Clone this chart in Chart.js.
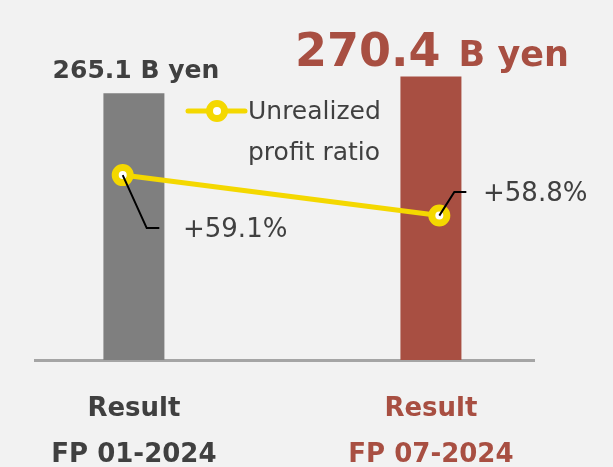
<!DOCTYPE html>
<html lang="en">
<head>
    <meta charset="UTF-8">
    <title>Unrealized profit</title>
    <script src="https://cdn.jsdelivr.net/npm/chart.js"></script>
    <style>
        body { margin: 0; background: #f2f2f2; }
        #wrap { width: 613px; height: 467px; }
    </style>
</head>
<body>
    <div id="wrap"><canvas id="profitChart"></canvas></div>

    <script>
        // data
        const categories = [['Result', 'FP 01-2024'], ['Result', 'FP 07-2024']];
        const assetValues = [265.1, 270.4];      // B yen
        const profitRatio = [59.1, 58.8];        // %
        const lineLabel = ['Unrealized', 'profit ratio'];

        const DARK = '#404040';
        const RED = '#a84f42';
        const GRAY = '#7f7f7f';
        const YELLOW = '#f4d800';
        const FONT = '"DejaVu Sans", Verdana, sans-serif';

        // background
        const bgPlugin = {
            id: 'bg',
            beforeDraw(chart) {
                const c = chart.ctx;
                c.save();
                c.fillStyle = '#f2f2f2';
                c.fillRect(0, 0, chart.width, chart.height);
                c.restore();
            }
        };

        // bar value labels, ratio labels with leader lines, legend
        const labelPlugin = {
            id: 'labels',
            afterDatasetsDraw(chart) {
                const c = chart.ctx;
                const bars = chart.getDatasetMeta(1).data;
                const pts = chart.getDatasetMeta(0).data;
                c.save();
                c.textBaseline = 'alphabetic';

                // first bar: single font
                c.fillStyle = DARK;
                c.font = 'bold 25px ' + FONT;
                c.textAlign = 'center';
                c.fillText(assetValues[0].toFixed(1) + ' B yen', bars[0].x + 2, bars[0].y - 15);

                // second bar: big number + smaller unit
                c.fillStyle = RED;
                c.textAlign = 'left';
                const num = assetValues[1].toFixed(1);
                c.font = 'bold 46px ' + FONT;
                const w1 = c.measureText(num).width;
                c.font = 'bold 35px ' + FONT;
                const w2 = c.measureText('B yen').width;
                const gap = 18;
                let x = bars[1].x + 1 - (w1 + gap + w2) / 2;
                c.font = 'bold 46px ' + FONT;
                c.fillText(num, x, bars[1].y - 11);
                c.font = 'bold 35px ' + FONT;
                c.fillText('B yen', x + w1 + gap, bars[1].y - 11);

                // ratio labels
                const leaders = [
                    { dx: 24, dy: 53, run: 12.6, gap: 23.7 },
                    { dx: 15, dy: -23.6, run: 12, gap: 16.7 }
                ];
                c.font = '26px ' + FONT;
                c.textBaseline = 'middle';
                pts.forEach((p, i) => {
                    const l = leaders[i];
                    const ex = p.x + l.dx, ey = p.y + l.dy;
                    c.strokeStyle = '#000';
                    c.lineWidth = 2;
                    c.beginPath();
                    c.moveTo(p.x, p.y);
                    c.lineTo(ex, ey);
                    c.lineTo(ex + l.run, ey);
                    c.stroke();
                    c.fillStyle = DARK;
                    c.fillText('+' + profitRatio[i].toFixed(1) + '%', ex + l.run + l.gap, ey + 2);
                });

                // legend
                const ds = chart.data.datasets[0];
                const lx = 188, ly = 111;
                c.strokeStyle = ds.borderColor;
                c.lineWidth = ds.borderWidth;
                c.lineCap = 'round';
                c.beginPath();
                c.moveTo(lx, ly);
                c.lineTo(lx + 57, ly);
                c.stroke();
                c.lineWidth = ds.pointBorderWidth;
                c.fillStyle = '#fff';
                c.beginPath();
                c.arc(lx + 29, ly, ds.pointRadius, 0, Math.PI * 2);
                c.fill();
                c.stroke();
                c.fillStyle = DARK;
                c.font = '25px ' + FONT;
                c.textAlign = 'left';
                lineLabel.forEach((t, i) => c.fillText(t, lx + 60, ly + 1 + i * 41));
                c.restore();
            }
        };

        new Chart(document.getElementById('profitChart'), {
            data: {
                datasets: [{
                    type: 'line',
                    label: lineLabel.join(' '),
                    data: profitRatio.map((v, i) => ({ x: i, y: v })),
                    xAxisID: 'x2',
                    yAxisID: 'y2',
                    borderColor: YELLOW,
                    borderWidth: 5,
                    pointRadius: 7.5,
                    pointBorderWidth: 7,
                    pointBackgroundColor: '#fff',
                    pointBorderColor: YELLOW,
                    order: 0
                }, {
                    type: 'bar',
                    label: 'Assets',
                    data: assetValues.map((v, i) => ({ x: i, y: v })),
                    backgroundColor: [GRAY, RED],
                    grouped: false,
                    barPercentage: 0.9,
                    categoryPercentage: 1,
                    maxBarThickness: 61,
                    xAxisID: 'x',
                    yAxisID: 'y',
                    order: 1
                }]
            },
            options: {
                responsive: true,
                maintainAspectRatio: false,
                animation: false,
                layout: { padding: { left: 35, right: 79, top: 10, bottom: 0 } },
                plugins: { legend: { display: false }, tooltip: { enabled: false } },
                scales: {
                    x: {
                        type: 'linear',
                        min: -0.333,
                        max: 1.347,
                        offset: false,
                        bounds: 'data',
                        z: 1,
                        grid: { display: false, drawTicks: false, offset: false },
                        border: { display: true, color: '#a5a5a5', width: 3 },
                        afterBuildTicks: s => { s.ticks = categories.map((c, i) => ({ value: i })); },
                        afterFit: s => { s.height = 107; },
                        ticks: {
                            padding: 26,
                            maxRotation: 0,
                            autoSkip: false,
                            callback: v => categories[v],
                            color: ctx => ctx.index === 0 ? DARK : RED,
                            font: { family: FONT, size: 26, weight: 'bold', lineHeight: 1.77 }
                        }
                    },
                    x2: { type: 'linear', display: false, offset: false, min: -0.277, max: 1.299 },
                    y: { display: false, min: 180, max: 290.2 },
                    y2: { display: false, min: 57.73, max: 60.29 }
                }
            },
            plugins: [bgPlugin, labelPlugin]
        });
    </script>
</body>
</html>
